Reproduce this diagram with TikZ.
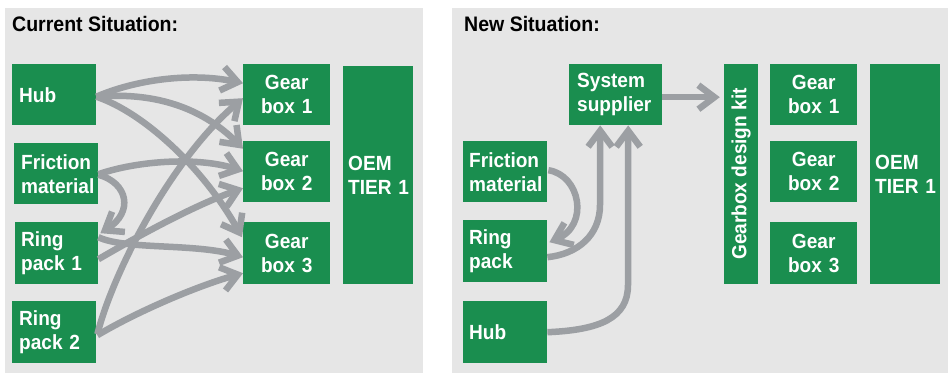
\documentclass[tikz,border=0pt]{standalone}
\usepackage{fontspec}
\setmainfont{Liberation Sans}[FakeStretch=0.93]
\usetikzlibrary{arrows.meta,calc}
\definecolor{boxgreen}{HTML}{1A8E4F}
\definecolor{panelgray}{HTML}{E6E6E6}
\definecolor{arrowgray}{HTML}{9C9FA3}
\pgfdeclarearrow{
  name = Chev,
  setup code = {
    \pgfarrowssettipend{0pt}
    \pgfarrowssetbackend{-23.4pt}
    \pgfarrowssetlineend{-8pt}
    \pgfarrowshullpoint{0pt}{0pt}
    \pgfarrowsupperhullpoint{-23.4pt}{14.6pt}
  },
  drawing code = {
    \pgfsetfillcolor{arrowgray}
    \pgfpathmoveto{\pgfqpoint{0pt}{0pt}}
    \pgfpathlineto{\pgfqpoint{-19.45pt}{14.6pt}}
    \pgfpathlineto{\pgfqpoint{-23.35pt}{9.4pt}}
    \pgfpathlineto{\pgfqpoint{-10.82pt}{0pt}}
    \pgfpathlineto{\pgfqpoint{-23.35pt}{-9.4pt}}
    \pgfpathlineto{\pgfqpoint{-19.45pt}{-14.6pt}}
    \pgfpathclose
    \pgfusepathqfill
  }
}
\begin{document}
\begin{tikzpicture}[x=1pt,y=-1pt,
  box/.style={fill=boxgreen, text=white, font=\fontsize{20.5}{24}\selectfont\bfseries, inner xsep=7pt, inner ysep=0pt, anchor=north west, minimum height=61pt},
  lbox/.style={box, align=left},
  cbox/.style={box, align=center},
  arr/.style={draw=arrowgray, line width=6.5pt, -{Chev}},
  title/.style={anchor=base west, font=\fontsize{21}{24}\selectfont\bfseries, text=black, inner sep=0pt}]
\useasboundingbox (0,0) rectangle (948,373);
\fill[panelgray] (5,8) rectangle (423,373);
\fill[panelgray] (452,8) rectangle (948,373);
% titles
\node[title] (t1) at (12,31) {Current Situation:};
\node[title] (t2) at (464,31) {New Situation:};
% left panel boxes
\node[lbox, text width=70pt] (hubL) at (12,64) {Hub};
\node[lbox, text width=70pt] (friL) at (14,143) {Friction\\material};
\node[lbox, inner xsep=6pt, text width=71pt, minimum height=62pt] (rp1L) at (15,222) {Ring\\pack~1};
\node[lbox, text width=70pt, minimum height=62pt] (rp2L) at (12,301) {Ring\\pack~2};
\node[cbox, text width=73pt] (gb1L) at (243,64) {Gear\\box~1};
\node[cbox, text width=73pt] (gb2L) at (243,141) {Gear\\box~2};
\node[cbox, text width=73pt, minimum height=62pt] (gb3L) at (243,222) {Gear\\box~3};
\node[lbox, inner xsep=5pt, text width=60pt, minimum height=218pt] (oemL) at (343,66) {OEM\\TIER~1};
% right panel boxes
\node[lbox, inner xsep=8pt, text width=77pt] (ss) at (569,64) {System\\supplier};
\node[lbox, inner xsep=6pt, text width=72pt] (friR) at (463,141) {Friction\\material};
\node[lbox, inner xsep=6pt, text width=72pt, minimum height=62pt] (rpR) at (463,220) {Ring\\pack};
\node[lbox, inner xsep=6pt, text width=72pt, minimum height=62pt] (hubR) at (463,301) {Hub};
\node[box, anchor=center, rotate=90, inner xsep=0pt, minimum width=220pt, minimum height=34pt] (kit) at (741,174) {Gearbox design kit};
\node[cbox, text width=73pt] (gb1R) at (770,64) {Gear\\box~1};
\node[cbox, text width=73pt] (gb2R) at (770,141) {Gear\\box~2};
\node[cbox, text width=73pt, minimum height=62pt] (gb3R) at (770,222) {Gear\\box~3};
\node[lbox, inner xsep=5pt, text width=60pt, minimum height=220pt] (oemR) at (870,64) {OEM\\TIER~1};
% left panel connectors
\draw[arr] ($(hubL.east)+(0,2)$) .. controls (135,80) and (190,72) .. ($(gb1L.west)+(0,-11.5)$);
\draw[arr] ($(hubL.east)+(0,2)$) .. controls (150,92) and (200,105) .. ($(gb2L.west)+(0,-23)$);
\draw[arr] ($(hubL.east)+(0,2)$) .. controls (145,113) and (205,170) .. ($(gb3L.west)+(-1,-16)$);
\draw[arr] ($(friL.east)+(0,0.5)$) .. controls (140,160) and (200,157) .. ($(gb2L.west)+(0,-0.5)$);
\draw[arr] ($(friL.east)+(0,1)$) .. controls (128,183) and (134,212) .. ($(rp1L.east)+(2,-20)$);
\draw[arr] ($(rp1L.east)+(0,-16)$) .. controls (125,250) and (195,243) .. ($(gb3L.west)+(0,4)$);
\draw[arr] ($(rp1L.east)+(0,6)$) .. controls (140,235) and (195,205) .. ($(gb2L.west)+(0,16.5)$);
\draw[arr] ($(rp2L.east)+(1,2)$) .. controls (112,275) and (170,160) .. ($(gb1L.west)+(0,3.5)$);
\draw[arr] ($(rp2L.east)+(1,3)$) .. controls (140,310) and (200,285) .. ($(gb3L.west)+(0,20)$);
% right panel connectors
\draw[arr] ($(ss.east)+(0,2.5)$) -- ($(ss.east -| kit.north)+(-4,2.5)$);
\draw[arr] ($(friR.east)+(1,-1.5)$) .. controls (580,175) and (590,225) .. ($(rpR.east)+(2,-9)$);
\draw[arr] ($(rpR.east)+(0,6)$) .. controls (578,254) and (600,235) .. (600,205) -- ($(ss.south)+(-15.5,0)$);
\draw[arr] (hubR.east) .. controls (600,330) and (628,318) .. (628,285) -- ($(ss.south)+(12.5,0)$);
\end{tikzpicture}
\end{document}
